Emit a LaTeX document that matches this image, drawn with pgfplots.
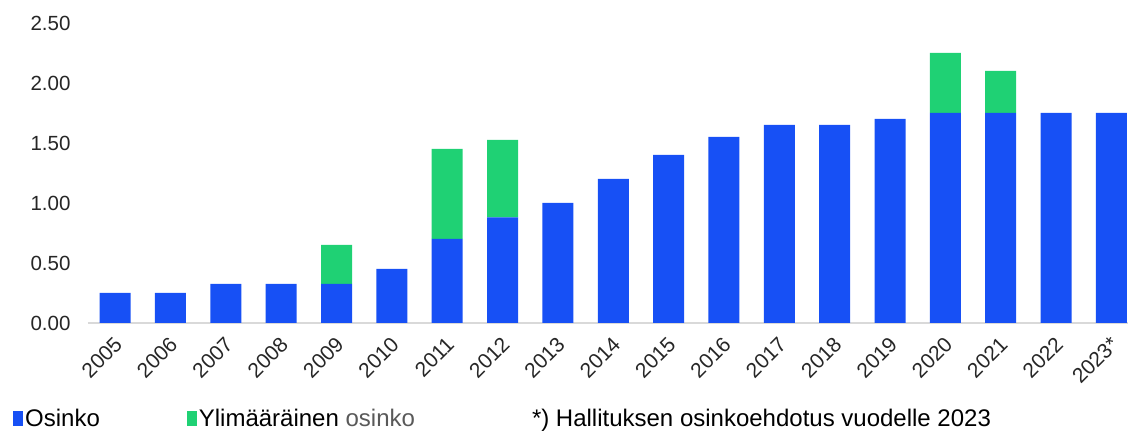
\documentclass[border=0pt]{standalone}
\usepackage{pgfplots}
\pgfplotsset{compat=1.18}
\usepackage{pgfplotstable}
\usepackage{fontspec}
\setmainfont{Liberation Sans}
\definecolor{osblue}{HTML}{1750F5}
\definecolor{osgreen}{HTML}{1FD174}
\definecolor{axgray}{HTML}{D9D9D9}
\definecolor{txt}{HTML}{262626}
\definecolor{gtxt}{HTML}{595959}
\pgfplotstableread{
x o y
0 0.25 0
1 0.25 0
2 0.325 0
3 0.325 0
4 0.325 0.325
5 0.45 0
6 0.70 0.75
7 0.88 0.645
8 1.00 0
9 1.20 0
10 1.40 0
11 1.55 0
12 1.65 0
13 1.65 0
14 1.70 0
15 1.75 0.50
16 1.75 0.35
17 1.75 0
18 1.75 0
}\data
\begin{document}
\begin{tikzpicture}
\useasboundingbox (-88pt,-112pt) rectangle (1040pt,323pt);
\begin{axis}[
  scale only axis, width=1040pt, height=300pt,
  at={(0,0)}, anchor=south west,
  ybar stacked, bar width=31pt,
  xmin=-0.49, xmax=18.3, ymin=0, ymax=2.5,
  axis x line*=bottom, axis y line*=left,
  x axis line style={axgray, line width=1.2pt, -},
  y axis line style={draw=none},
  xtick=data,
  xticklabels={2005,2006,2007,2008,2009,2010,2011,2012,2013,2014,2015,2016,2017,2018,2019,2020,2021,2022,2023*},
  major tick length=0pt,
  ytick={0,0.5,1,1.5,2,2.5},
  yticklabel style={/pgf/number format/fixed, /pgf/number format/fixed zerofill, /pgf/number format/precision=2, /pgf/number format/assume math mode=true,
    font=\fontsize{20.5}{24}\selectfont, text=txt, xshift=-14pt},
  xticklabel style={font=\fontsize{21}{24}\selectfont, text=txt, rotate=45, anchor=east, xshift=-7pt, yshift=-15pt},
  legend style={at={(axis description cs:0,0)}, anchor=west, xshift=-78pt, yshift=-96pt, draw=none, fill=none,
    font=\fontsize{24}{28}\selectfont, text=black, legend columns=3,
    /tikz/column 2/.style={column sep=85pt},
    /tikz/column 4/.style={column sep=113pt},
    /tikz/every odd column/.append style={column sep=0pt}},
  legend cell align=left,
  legend image code/.code={\draw[#1, draw=none] (0pt,-7.5pt) rectangle (10pt,7.5pt);},
]
\addplot[fill=osblue, draw=none] table[x=x, y=o] {\data};
\addplot[fill=osgreen, draw=none] table[x=x, y=y] {\data};
\addlegendentry{Osinko}
\addlegendentry{Ylimääräinen \textcolor{gtxt}{osinko}}
\addlegendimage{empty legend}
\addlegendentry{*) Hallituksen osinkoehdotus vuodelle 2023}
\end{axis}
\end{tikzpicture}
\end{document}
